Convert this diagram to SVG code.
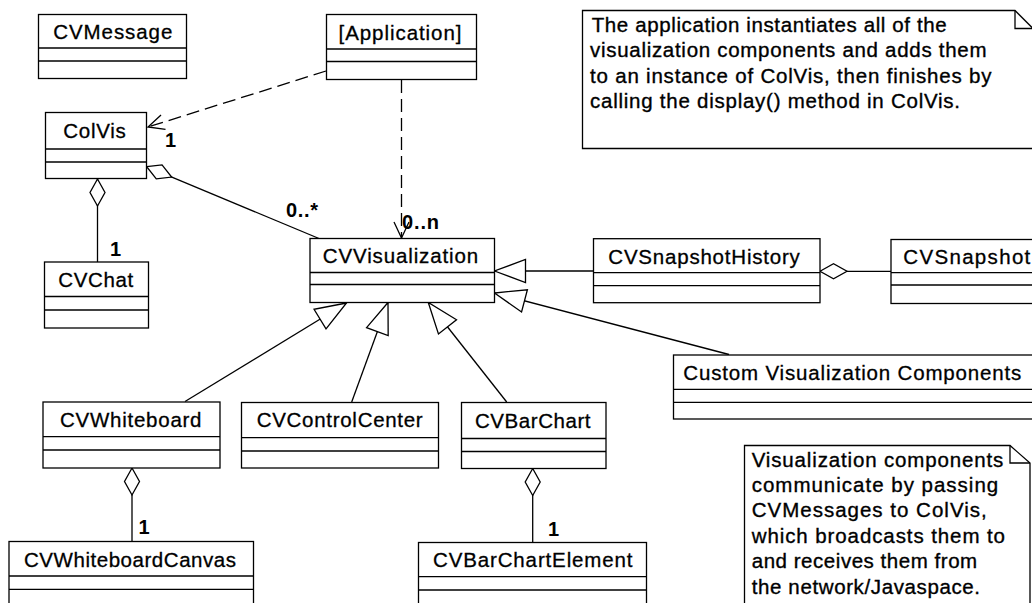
<svg xmlns="http://www.w3.org/2000/svg" width="1032" height="603" viewBox="0 0 1032 603">
<style>
  .box{fill:#fff;stroke:#000;stroke-width:1.3}
  .div{stroke:#000;stroke-width:1.3}
  .name{font-family:"Liberation Sans",Arial,sans-serif;font-size:20.5px;fill:#000;stroke:#000;stroke-width:0.3}
  .note{fill:#fff;stroke:#000;stroke-width:1.3}
  .fold{fill:none;stroke:#000;stroke-width:1.3}
  .ntext{font-family:"Liberation Sans",Arial,sans-serif;font-size:20.5px;fill:#000;stroke:#000;stroke-width:0.35}
  .mult{font-family:"Liberation Sans",Arial,sans-serif;font-size:20px;font-weight:bold;fill:#000}
  .solid{fill:none;stroke:#000;stroke-width:1.3}
  .dash{fill:none;stroke:#000;stroke-width:1.3;stroke-dasharray:13,6}
</style>
<defs>
  <marker id="tri" markerUnits="userSpaceOnUse" markerWidth="34" markerHeight="26" refX="31" refY="11.5" orient="auto" overflow="visible">
    <path d="M31,11.5 L0,0 L0,23 Z" fill="#fff" stroke="#000" stroke-width="1.3"/>
  </marker>
  <marker id="dia" markerUnits="userSpaceOnUse" markerWidth="30" markerHeight="18" refX="0" refY="7.5" orient="auto" overflow="visible">
    <path d="M0,7.5 L13.5,0 L27,7.5 L13.5,15 Z" fill="#fff" stroke="#000" stroke-width="1.3"/>
  </marker>
  <marker id="open" markerUnits="userSpaceOnUse" markerWidth="20" markerHeight="18" refX="16" refY="7.5" orient="auto" overflow="visible">
    <path d="M0,0 L16,7.5 L0,15" fill="none" stroke="#000" stroke-width="1.3"/>
  </marker>
</defs>
<rect width="1032" height="603" fill="#fff"/>

<g id="connectors">
  <line class="dash" x1="326" y1="71" x2="148" y2="127" marker-end="url(#open)"/>
  <line class="dash" x1="401.5" y1="80" x2="401.5" y2="238" marker-end="url(#open)"/>
  <line class="solid" x1="146.7" y1="166.7" x2="319" y2="238.5" marker-start="url(#dia)"/>
  <line class="solid" x1="97.5" y1="179" x2="97.5" y2="262" marker-start="url(#dia)"/>
  <line class="solid" x1="132" y1="468" x2="132" y2="541.5" marker-start="url(#dia)"/>
  <line class="solid" x1="532.7" y1="468.5" x2="532.7" y2="542.5" marker-start="url(#dia)"/>
  <line class="solid" x1="820" y1="271.3" x2="891" y2="271.3" marker-start="url(#dia)"/>
  <line class="solid" x1="593.5" y1="271" x2="494.5" y2="271" marker-end="url(#tri)"/>
  <line class="solid" x1="729" y1="354.5" x2="494.5" y2="293" marker-end="url(#tri)"/>
  <line class="solid" x1="185" y1="401.5" x2="346.5" y2="303" marker-end="url(#tri)"/>
  <line class="solid" x1="351.7" y1="402" x2="388" y2="302.5" marker-end="url(#tri)"/>
  <line class="solid" x1="506.7" y1="402" x2="428.3" y2="302.5" marker-end="url(#tri)"/>
  <text class="mult" x="165" y="147">1</text>
  <text class="mult" x="286" y="216.7" textLength="32" lengthAdjust="spacing">0..*</text>
  <text class="mult" x="402" y="229.3" textLength="37" lengthAdjust="spacing">0..n</text>
  <text class="mult" x="110" y="255.5">1</text>
  <text class="mult" x="138.5" y="533.5">1</text>
  <text class="mult" x="548" y="535.5">1</text>
</g>

<g id="CVMessage">
  <rect class="box" x="38.5" y="14.5" width="148" height="64"/>
  <line class="div" x1="38.5" y1="48" x2="186.5" y2="48"/>
  <line class="div" x1="38.5" y1="61" x2="186.5" y2="61"/>
  <text class="name" x="53.3" y="39.3" textLength="119" lengthAdjust="spacing">CVMessage</text>
</g>
<g id="Application">
  <rect class="box" x="326.5" y="14.5" width="150" height="65"/>
  <line class="div" x1="326.5" y1="49" x2="476.5" y2="49"/>
  <line class="div" x1="326.5" y1="61.5" x2="476.5" y2="61.5"/>
  <text class="name" x="338.5" y="39.5" textLength="123" lengthAdjust="spacing">[Application]</text>
</g>
<g id="ColVis">
  <rect class="box" x="45.5" y="112.5" width="101" height="66"/>
  <line class="div" x1="45.5" y1="149" x2="146.5" y2="149"/>
  <line class="div" x1="45.5" y1="162" x2="146.5" y2="162"/>
  <text class="name" x="63.3" y="138.3" textLength="62.5" lengthAdjust="spacing">ColVis</text>
</g>
<g id="CVChat">
  <rect class="box" x="44.5" y="262" width="104" height="66"/>
  <line class="div" x1="44.5" y1="296.5" x2="148.5" y2="296.5"/>
  <line class="div" x1="44.5" y1="310" x2="148.5" y2="310"/>
  <text class="name" x="58.3" y="286.7" textLength="75" lengthAdjust="spacing">CVChat</text>
</g>
<g id="CVVisualization">
  <rect class="box" x="310" y="238.5" width="184.5" height="64"/>
  <line class="div" x1="310" y1="272.5" x2="494.5" y2="272.5"/>
  <line class="div" x1="310" y1="284.5" x2="494.5" y2="284.5"/>
  <text class="name" x="322.7" y="263.3" textLength="155.5" lengthAdjust="spacing">CVVisualization</text>
</g>
<g id="CVSnapshotHistory">
  <rect class="box" x="593.5" y="238.7" width="226.5" height="64"/>
  <line class="div" x1="593.5" y1="272.7" x2="820" y2="272.7"/>
  <line class="div" x1="593.5" y1="285.7" x2="820" y2="285.7"/>
  <text class="name" x="608.3" y="264" textLength="191.5" lengthAdjust="spacing">CVSnapshotHistory</text>
</g>
<g id="CVSnapshot">
  <rect class="box" x="891" y="239.5" width="160" height="64"/>
  <line class="div" x1="891" y1="272.7" x2="1051" y2="272.7"/>
  <line class="div" x1="891" y1="285" x2="1051" y2="285"/>
  <text class="name" x="903.3" y="264" textLength="127" lengthAdjust="spacing">CVSnapshot</text>
</g>
<g id="CustomVisualizationComponents">
  <rect class="box" x="673.5" y="355" width="380" height="64"/>
  <line class="div" x1="673.5" y1="389.3" x2="1053.5" y2="389.3"/>
  <line class="div" x1="673.5" y1="402.3" x2="1053.5" y2="402.3"/>
  <text class="name" x="683.3" y="380" textLength="338" lengthAdjust="spacing">Custom Visualization Components</text>
</g>
<g id="CVWhiteboard">
  <rect class="box" x="43" y="402" width="177" height="66"/>
  <line class="div" x1="43" y1="436.7" x2="220" y2="436.7"/>
  <line class="div" x1="43" y1="450" x2="220" y2="450"/>
  <text class="name" x="60" y="427.3" textLength="141.5" lengthAdjust="spacing">CVWhiteboard</text>
</g>
<g id="CVControlCenter">
  <rect class="box" x="241.5" y="402.5" width="197" height="65.5"/>
  <line class="div" x1="241.5" y1="437.7" x2="438.5" y2="437.7"/>
  <line class="div" x1="241.5" y1="451" x2="438.5" y2="451"/>
  <text class="name" x="256.7" y="427.3" textLength="166" lengthAdjust="spacing">CVControlCenter</text>
</g>
<g id="CVBarChart">
  <rect class="box" x="461.5" y="402.5" width="144.5" height="66"/>
  <line class="div" x1="461.5" y1="438.5" x2="606" y2="438.5"/>
  <line class="div" x1="461.5" y1="451.5" x2="606" y2="451.5"/>
  <text class="name" x="475" y="427.5" textLength="115.5" lengthAdjust="spacing">CVBarChart</text>
</g>
<g id="CVWhiteboardCanvas">
  <rect class="box" x="9" y="541.5" width="244.5" height="80"/>
  <line class="div" x1="9" y1="576" x2="253.5" y2="576"/>
  <line class="div" x1="9" y1="589.3" x2="253.5" y2="589.3"/>
  <text class="name" x="24" y="566.7" textLength="212" lengthAdjust="spacing">CVWhiteboardCanvas</text>
</g>
<g id="CVBarChartElement">
  <rect class="box" x="418.5" y="542.5" width="228" height="80"/>
  <line class="div" x1="418.5" y1="576.7" x2="646.5" y2="576.7"/>
  <line class="div" x1="418.5" y1="590" x2="646.5" y2="590"/>
  <text class="name" x="433" y="566.7" textLength="199.5" lengthAdjust="spacing">CVBarChartElement</text>
</g>

<g id="note1">
  <path class="note" d="M582.5,10.5 H1015 L1033,28.5 V148.5 H582.5 Z"/>
  <path class="fold" d="M1015,10.5 V28.5 H1033"/>
  <text class="ntext" x="591.7" y="31.7" textLength="355" lengthAdjust="spacing">The application instantiates all of the</text>
  <text class="ntext" x="590" y="57" textLength="396.5" lengthAdjust="spacing">visualization components and adds them</text>
  <text class="ntext" x="590" y="82.7" textLength="401.5" lengthAdjust="spacing">to an instance of ColVis, then finishes by</text>
  <text class="ntext" x="590" y="108.3" textLength="370" lengthAdjust="spacing">calling the display() method in ColVis.</text>
</g>
<g id="note2">
  <path class="note" d="M744.5,445.5 H1010 L1030,463 V615 H744.5 Z"/>
  <path class="fold" d="M1010,445.5 V463 H1030"/>
  <text class="ntext" x="751.7" y="466.7" textLength="251.5" lengthAdjust="spacing">Visualization components</text>
  <text class="ntext" x="751.7" y="491.5" textLength="246.5" lengthAdjust="spacing">communicate by passing</text>
  <text class="ntext" x="751.7" y="516.7" textLength="235" lengthAdjust="spacing">CVMessages to ColVis,</text>
  <text class="ntext" x="751.7" y="543.3" textLength="253.3" lengthAdjust="spacing">which broadcasts them to</text>
  <text class="ntext" x="751.7" y="568.3" textLength="225.5" lengthAdjust="spacing">and receives them from</text>
  <text class="ntext" x="751.7" y="594" textLength="228.3" lengthAdjust="spacing">the network/Javaspace.</text>
</g>
</svg>
